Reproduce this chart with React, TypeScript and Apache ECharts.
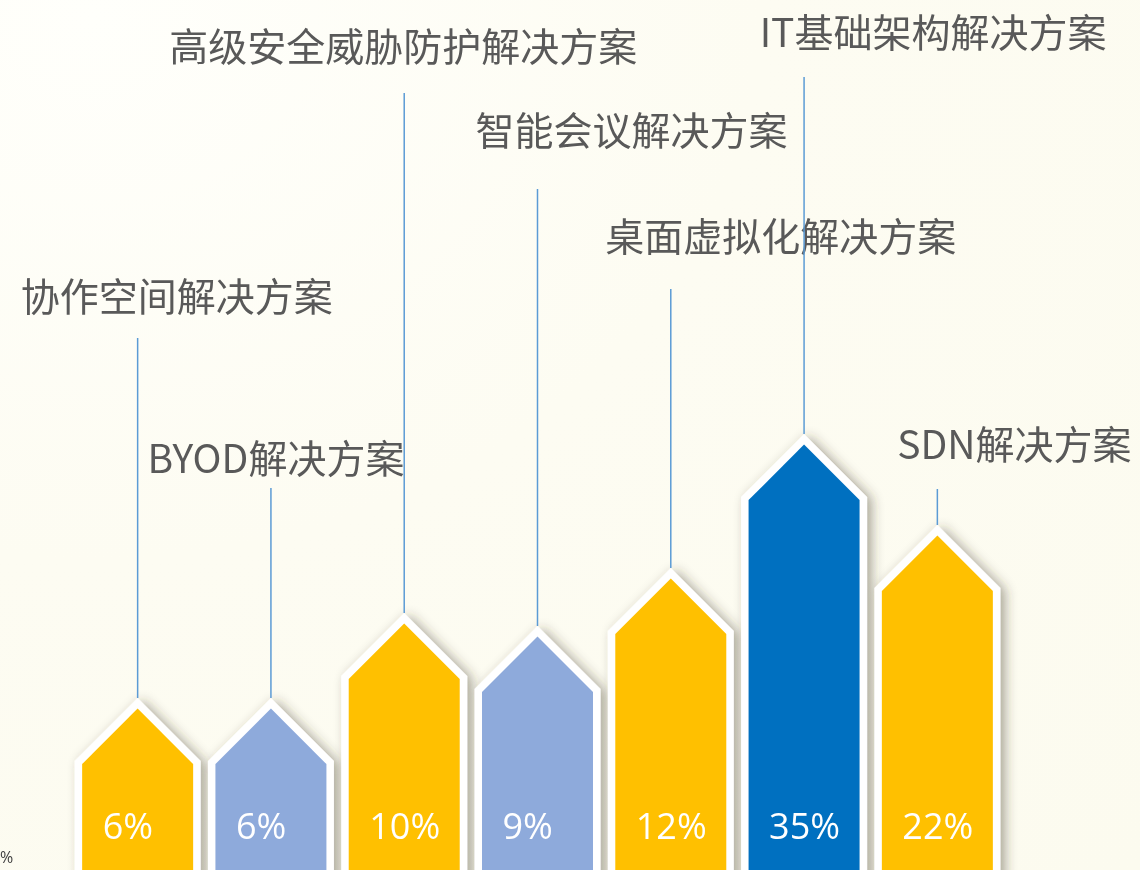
import React, { useEffect, useRef } from "react";
import * as echarts from "echarts";

// ---- data ----
const categories = [
  "协作空间解决方案",
  "BYOD解决方案",
  "高级安全威胁防护解决方案",
  "智能会议解决方案",
  "桌面虚拟化解决方案",
  "IT基础架构解决方案",
  "SDN解决方案",
];
const shares = [6, 6, 10, 9, 12, 35, 22]; // displayed percentages
const barHeights = [17.2, 17.2, 25.7, 24.4, 30.2, 43.6, 34.5]; // visual arrow heights (axis units)
const leaderTops = [53.2, 38.2, 77.7, 68.1, 58.1, 79.3, 38.1]; // where each callout line ends (axis units)

// ---- styles / layout ----
const barColors = ["#FFC000", "#8EAADB", "#FFC000", "#8EAADB", "#FFC000", "#0070C0", "#FFC000"];
const labelDx = [39, 5, -1, 94, 110, 129, 77];
const labelDy = [44, 32, 49, 61, 55, 47, 47];

export default function App() {
  const ref = useRef<HTMLDivElement>(null);

  useEffect(() => {
    if (!ref.current) return;
    const chart = echarts.init(ref.current, undefined, { renderer: "svg" });
    const data = categories.map((_, i) => [i, barHeights[i], leaderTops[i]]);

    chart.setOption({
      animation: false,
      backgroundColor: "transparent",
      grid: { left: 71, right: 136, top: 0, bottom: 0 },
      xAxis: {
        type: "category",
        data: categories,
        show: false,
        boundaryGap: true,
      },
      yAxis: { type: "value", min: 0, max: 87, show: false },
      graphic: [
        {
          type: "text",
          x: 0,
          y: 857,
          silent: true,
          style: {
            text: "%",
            fill: "#404040",
            fontSize: 16,
            fontFamily: '"Open Sans", sans-serif',
            align: "left",
            verticalAlign: "middle",
          },
        },
      ],
      series: [
        {
          type: "custom",
          data,
          encode: { x: 0, y: 1 },
          clip: false,
          renderItem: (params: any, api: any) => {
            const i = params.dataIndex;
            const top = api.coord([api.value(0), api.value(1)]);
            const base = api.coord([api.value(0), 0]);
            const leader = api.coord([api.value(0), api.value(2)]);
            const cx = top[0];
            const ty = top[1];
            const H = 63;
            const B = 7.5;
            const h = H - B;
            const d = B * Math.SQRT2;
            const bottom = base[1] + 40;
            return {
              type: "group",
              children: [
                {
                  type: "polygon",
                  shape: {
                    points: [
                      [cx - H, bottom],
                      [cx - H, ty + H],
                      [cx, ty],
                      [cx + H, ty + H],
                      [cx + H, bottom],
                    ],
                  },
                  style: {
                    fill: "#ffffff",
                    shadowBlur: 12,
                    shadowColor: "rgba(60,55,40,0.42)",
                    shadowOffsetX: 5,
                    shadowOffsetY: 2,
                  },
                },
                {
                  type: "polygon",
                  shape: {
                    points: [
                      [cx - h, bottom],
                      [cx - h, ty + d + h],
                      [cx, ty + d],
                      [cx + h, ty + d + h],
                      [cx + h, bottom],
                    ],
                  },
                  style: { fill: barColors[i] },
                },
                {
                  type: "line",
                  shape: { x1: cx, y1: leader[1], x2: cx, y2: ty },
                  style: { stroke: "#5B9BD5", lineWidth: 1.5 },
                },
                {
                  type: "text",
                  x: cx - 35,
                  y: base[1] - 45,
                  style: {
                    text: shares[i] + "%",
                    fill: "#ffffff",
                    fontSize: 36,
                    fontFamily: '"Open Sans", sans-serif',
                    align: "left",
                    verticalAlign: "middle",
                  },
                },
                {
                  type: "text",
                  x: cx + labelDx[i],
                  y: leader[1] - labelDy[i],
                  style: {
                    text: categories[i],
                    fill: "#595959",
                    fontSize: 39,
                    fontFamily: '"Noto Sans CJK SC", sans-serif',
                    align: "center",
                    verticalAlign: "middle",
                  },
                },
              ],
            };
          },
        },
      ],
    });

    return () => chart.dispose();
  }, []);

  return (
    <div
      style={{
        position: "fixed",
        left: 0,
        top: 0,
        width: 1140,
        height: 870,
        background: "radial-gradient(ellipse at 8% 2%, #FFFFFB 0%, #FDFCF2 45%, #FCFBEF 100%)",
      }}
    >
      <div ref={ref} style={{ width: 1140, height: 870 }} />
    </div>
  );
}
